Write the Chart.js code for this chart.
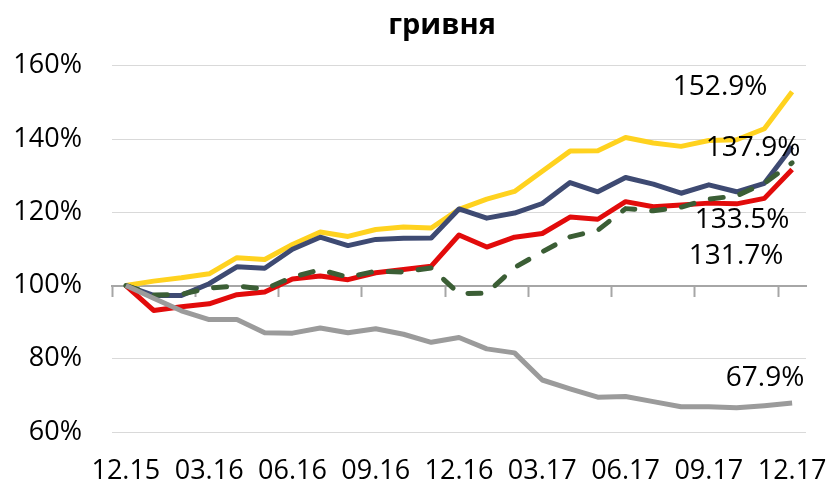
<!DOCTYPE html>
<html>
<head>
<meta charset="utf-8">
<script src="https://cdn.jsdelivr.net/npm/chart.js@4/dist/chart.umd.min.js"></script>
<style>
  html, body { margin: 0; padding: 0; background: #fff; }
  #wrap { width: 834px; height: 485px; position: relative; }
</style>
</head>
<body>
<div id="wrap"><canvas id="chart"></canvas></div>
<script>
const months = ['12.15', '01.16', '02.16', '03.16', '04.16', '05.16', '06.16', '07.16', '08.16',
    '09.16', '10.16', '11.16', '12.16', '01.17', '02.17', '03.17', '04.17', '05.17', '06.17',
    '07.17', '08.17', '09.17', '10.17', '11.17', '12.17'];

const yellowSeries = [100, 101.2, 102.1, 103.2, 107.6, 107.1, 111.2, 114.6, 113.4, 115.3, 116.0, 115.7,
    120.8, 123.6, 125.7, 131.2, 136.7, 136.8, 140.4, 138.9, 138.0, 139.6, 139.8, 142.8, 152.9];
const navySeries = [100, 97.3, 97.3, 100.5, 105.1, 104.7, 109.9, 113.2, 110.9, 112.6, 112.9, 113.0,
    120.9, 118.4, 119.8, 122.4, 128.1, 125.6, 129.5, 127.7, 125.2, 127.5, 125.6, 127.9, 137.9];
const redSeries = [100, 93.2, 94.2, 95.0, 97.5, 98.2, 101.8, 102.6, 101.6, 103.5, 104.4, 105.3,
    113.8, 110.5, 113.2, 114.2, 118.7, 118.1, 122.9, 121.5, 122.0, 122.5, 122.3, 123.8, 131.7];
const greenSeries = [100, 97.4, 97.6, 99.3, 99.9, 99.0, 102.3, 104.3, 102.3, 103.9, 103.7, 104.8,
    97.8, 97.9, 104.9, 109.2, 113.3, 115.1, 121.0, 120.4, 121.4, 123.6, 124.5, 127.9, 133.5];
const graySeries = [100, 96.5, 93.1, 90.7, 90.7, 87.1, 87.0, 88.4, 87.1, 88.2, 86.7, 84.5,
    85.8, 82.7, 81.6, 74.2, 71.8, 69.5, 69.7, 68.3, 66.9, 66.9, 66.6, 67.2, 67.9];

const yTicks = [60, 80, 100, 120, 140, 160];

const FONT = '"Open Sans", "Noto Sans", sans-serif';

// where the end-value label sits, relative to the last point (x, baseline y)
const endLabelOffsets = {
    gray: [-27, -17],
    green: [-50, 65],
    red: [-56, 95],
    navy: [-39, 9],
    yellow: [-72, 3]
};

const endLabels = {
    id: 'endLabels',
    afterLayout(chart) {
        // title sits a bit right of the canvas centre in the original
        const t = chart.titleBlock;
        if (t) { t.left += 34; t.right += 34; }
    },
    afterDatasetsDraw(chart) {
        const c = chart.ctx;
        c.save();
        c.font = '28px ' + FONT;
        c.fillStyle = '#000';
        c.textAlign = 'center';
        c.textBaseline = 'alphabetic';
        chart.data.datasets.forEach((ds, i) => {
            const meta = chart.getDatasetMeta(i);
            const last = meta.data[meta.data.length - 1];
            const off = endLabelOffsets[ds.key];
            const v = ds.data[ds.data.length - 1];
            c.fillText(v.toFixed(1) + '%', last.x + off[0], last.y + off[1]);
        });
        c.restore();
    }
};

function line(key, data, color, dashed) {
    return {
        key: key,
        label: key,
        data: data,
        borderColor: color,
        backgroundColor: color,
        borderWidth: 5,
        borderDash: dashed ? [13, 17] : [],
        borderCapStyle: dashed ? 'round' : 'butt',
        borderJoinStyle: 'round',
        pointRadius: 0,
        tension: 0,
        fill: false
    };
}

const ctx = document.getElementById('chart').getContext('2d');
new Chart(ctx, {
    type: 'line',
    data: {
        labels: months,
        datasets: [
            line('gray', graySeries, '#9B9B9B'),
            line('green', greenSeries, '#3B5E35', true),
            line('red', redSeries, '#E20B0B'),
            line('navy', navySeries, '#3E4A72'),
            line('yellow', yellowSeries, '#FFD21F')
        ]
    },
    options: {
        responsive: true,
        maintainAspectRatio: false,
        animation: false,
        layout: { padding: { left: 10, right: 28, top: 0, bottom: 0 } },
        plugins: {
            legend: { display: false },
            tooltip: { enabled: false },
            title: {
                display: true,
                text: 'гривня',
                color: '#000',
                font: { family: FONT, size: 29, weight: 'bold' },
                padding: { top: 8, bottom: 23 }
            }
        },
        scales: {
            x: {
                type: 'category',
                offset: true,
                grid: { display: false, drawTicks: false },
                border: { display: false },
                ticks: {
                    autoSkip: false,
                    maxRotation: 0,
                    color: '#000',
                    padding: 23,
                    font: { family: FONT, size: 27 },
                    callback: (v, i) => (i % 3 === 0 ? months[i] : '')
                },
                afterFit: s => { s.height = 53; s.paddingLeft = 0; s.paddingRight = 0; }
            },
            axis100: {
                type: 'category',
                axis: 'x',
                position: { y: 100 },
                offset: true,
                grid: {
                    offset: true,
                    drawOnChartArea: false,
                    drawTicks: true,
                    tickLength: 10,
                    tickWidth: 2,
                    tickColor: c => (c.index % 3 === 0 ? '#A6A6A6' : 'rgba(0,0,0,0)')
                },
                border: { display: true, color: '#A6A6A6', width: 2 },
                ticks: { display: false, autoSkip: false },
                afterFit: s => { s.height = 0; s.paddingLeft = 0; s.paddingRight = 0; }
            },
            y: {
                min: 60,
                max: 160,
                afterBuildTicks: s => { s.ticks = yTicks.map(v => ({ value: v })); },
                grid: { color: '#D9D9D9', lineWidth: 1, drawTicks: false },
                border: { display: false },
                ticks: {
                    color: '#000',
                    padding: 30,
                    font: { family: FONT, size: 27 },
                    callback: v => v + '%'
                },
                afterFit: s => { s.width = 102; }
            }
        }
    },
    plugins: [endLabels]
});
</script>
</body>
</html>
